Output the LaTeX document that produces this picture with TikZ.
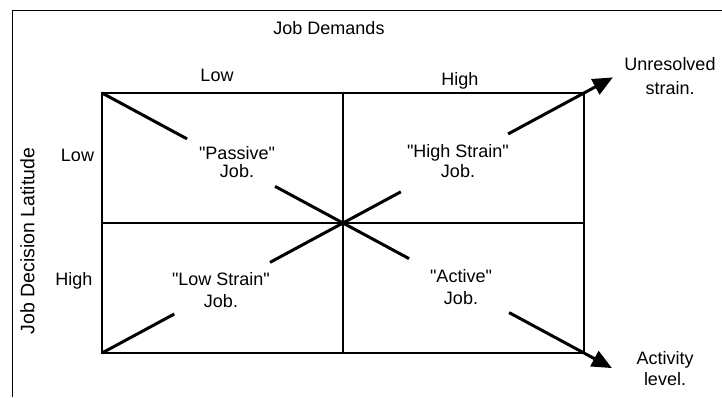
\documentclass[tikz,border=0pt]{standalone}
\usepackage{fontspec}
\setmainfont{Liberation Sans}[Ligatures=TeXOff]
\usetikzlibrary{arrows.meta,calc}
\tikzset{
  lbl/.style={font=\fontsize{18}{18}\selectfont, inner sep=0pt},
  quad/.style={lbl, align=center},
  gridline/.style={line width=1.6pt},
  diag/.style={line width=3pt},
  diagarrow/.style={diag, -{Triangle[length=20pt,width=17pt]}}
}
\begin{document}
\begin{tikzpicture}[x=1pt,y=-1pt]
  \useasboundingbox (0,0) rectangle (722,397);
  \draw[line width=1pt] (12,397) -- (12,10) -- (722,10);

  \coordinate (tl) at (102,93);
  \coordinate (tr) at (584,93);
  \coordinate (bl) at (102,353);
  \coordinate (br) at (584,353);
  \coordinate (c) at (343,223);

  % the four quadrants
  \draw[line width=2.2pt] (tl) rectangle (br);
  \draw[gridline] (tl -| c) -- (bl -| c);
  \draw[gridline] (tl |- c) -- (tr |- c);

  % axis labels
  \node[lbl, anchor=base] (demands) at (329,34) {Job Demands};
  \node[lbl, anchor=base] (dlow) at (217,81) {Low};
  \node[lbl, anchor=base] (dhigh) at (460,85) {High};
  \node[lbl, rotate=90] (latitude) at (27.5,241) {\fontsize{19.5}{19.5}\selectfont Job Decision Latitude};
  \node[lbl, anchor=base] (llow) at (77.5,161) {Low};
  \node[lbl, anchor=base] (lhigh) at (74,285) {High};

  % quadrant labels
  \node[quad] (passive) at (237,162) {"Passive"\\Job.};
  \node[quad] (highstrain) at (458,161) {"High Strain"\\[2pt]Job.};
  \node[quad] (lowstrain) at (221,290) {"Low Strain"\\[4pt]Job.};
  \node[quad] (active) at (461,287) {"Active"\\[4pt]Job.};
  \node[quad] (unresolved) at (670,76) {Unresolved\\[6pt]strain.};
  \node[quad] (activity) at (665,369) {Activity\\[3pt]level.};

  % diagonals
  \draw[diag] (tl) -- ($(tl)!0.353!(c)$);
  \draw[diag] ($(tl)!0.718!(c)$) -- (c);
  \draw[diag] (bl) -- ($(bl)!0.30!(c)$);
  \draw[diag] ($(bl)!0.697!(c)$) -- (c);
  \draw[diag] (c) -- ($(c)!0.24!(tr)$);
  \draw[diagarrow] ($(c)!0.685!(tr)$) -- ($(c)!1.12!(tr)$);
  \draw[diag] (c) -- ($(c)!0.274!(br)$);
  \draw[diagarrow] ($(c)!0.689!(br)$) -- ($(c)!1.116!(br)$);
\end{tikzpicture}
\end{document}
